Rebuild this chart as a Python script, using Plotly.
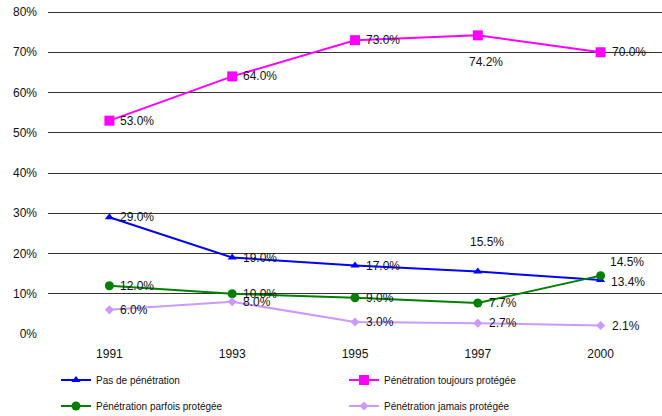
import plotly.graph_objects as go

years = ["1991", "1993", "1995", "1997", "2000"]
pas_penetration = [29.0, 19.0, 17.0, 15.5, 13.4]
toujours_protegee = [53.0, 64.0, 73.0, 74.2, 70.0]
parfois_protegee = [12.0, 10.0, 9.0, 7.7, 14.5]
jamais_protegee = [6.0, 8.0, 3.0, 2.7, 2.1]
y_ticks = [0, 10, 20, 30, 40, 50, 60, 70, 80]
y_tick_labels = [f"{v}%" for v in y_ticks]

series = [
    ("Pas de pénétration", pas_penetration, "#0000FF", "triangle-up", 8, "legend"),
    ("Pénétration toujours protégée", toujours_protegee, "#FF00FF", "square", 10, "legend"),
    ("Pénétration parfois protégée", parfois_protegee, "#008000", "circle", 9, "legend2"),
    ("Pénétration jamais protégée", jamais_protegee, "#CC99FF", "diamond", 7, "legend2"),
]

# label offsets (px) per (series index, point index): (xanchor, xshift, yshift)
label_style_default = ("left", 9, 0)
label_style_override = {
    (0, 3): ("center", 9, 30),
    (1, 3): ("center", 8, -27),
    (2, 4): ("left", 7, 14),
    (0, 4): ("left", 8, -2),
}

FONT = "Liberation Sans, Arial, sans-serif"

fig = go.Figure()
annotations = []
for si, (name, vals, color, sym, msize, leg) in enumerate(series):
    fig.add_trace(go.Scatter(
        x=years, y=vals, name=name, mode="lines+markers",
        line=dict(color=color, width=2),
        marker=dict(symbol=sym, size=msize, color=color),
        legend=leg, hoverinfo="skip",
    ))
    for pi, yv in enumerate(vals):
        xa, xs, ys = label_style_override.get((si, pi), label_style_default)
        annotations.append(dict(
            x=pi, y=yv, xref="x", yref="y", text=f"{yv:.1f}%",
            showarrow=False, xanchor=xa, yanchor="middle", xshift=xs, yshift=ys,
            font=dict(family=FONT, size=12, color="#111111"),
        ))

# figure extends below the window so the legends never push the margins
fig.update_layout(
    width=662, height=448,
    margin=dict(l=48, r=0, t=11, b=114),
    paper_bgcolor="white", plot_bgcolor="white",
    font=dict(family=FONT, size=12, color="#111111"),
    annotations=annotations,
    showlegend=True,
    legend=dict(orientation="h", x=0.013, xanchor="left", y=-0.1424, yanchor="middle",
                entrywidth=243, entrywidthmode="pixels", font=dict(size=10, family=FONT),
                bgcolor="rgba(0,0,0,0)"),
    legend2=dict(orientation="h", x=0.013, xanchor="left", y=-0.2229, yanchor="middle",
                 entrywidth=243, entrywidthmode="pixels", font=dict(size=10, family=FONT),
                 bgcolor="rgba(0,0,0,0)"),
    xaxis=dict(type="category", range=[-0.5, 4.5], showgrid=False, showline=False,
               zeroline=False, ticks="", ticklabelstandoff=11, automargin=False,
               tickfont=dict(size=12, family=FONT)),
    yaxis=dict(range=[0, 80.25], tickvals=y_ticks, ticktext=y_tick_labels,
               showgrid=True, gridcolor="#333333", gridwidth=1, automargin=False,
               zeroline=False, showline=False, ticks="", ticklabelstandoff=10,
               ticklabeloverflow="allow",
               tickfont=dict(size=12, family=FONT)),
)

fig.write_html("out.html", config={"displayModeBar": False},
               post_script="document.body.style.margin='0';")
